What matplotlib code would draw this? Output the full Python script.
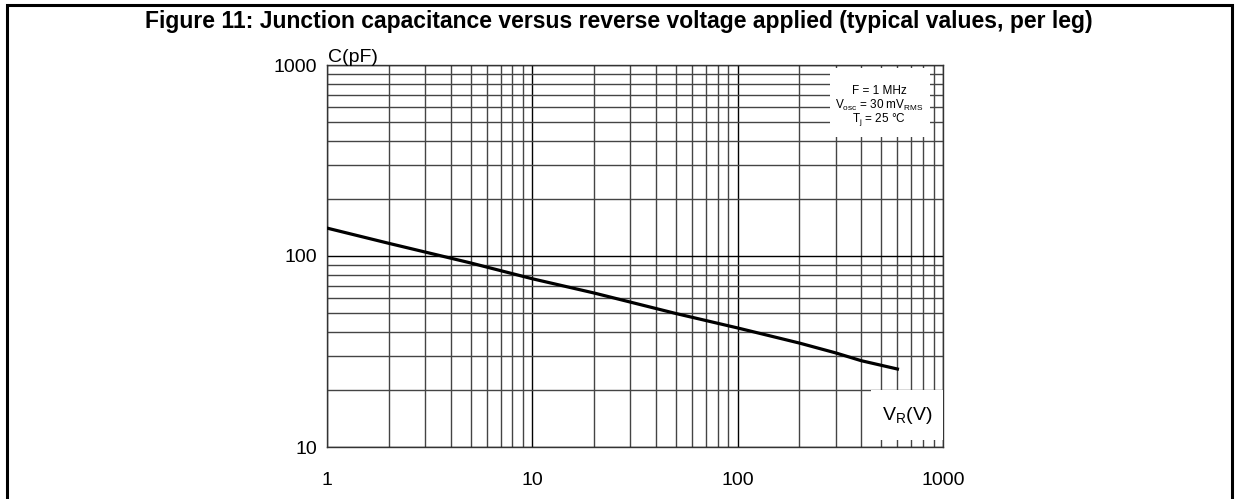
import numpy as np
import matplotlib.pyplot as plt
from matplotlib.patches import Rectangle
from matplotlib.ticker import LogLocator, FixedLocator, NullFormatter

plt.rcParams['font.family'] = ['Liberation Sans', 'DejaVu Sans']

# data
vr = [1, 2, 5, 10, 20, 50, 100, 200, 300, 400, 600]
cap = [140, 116.5, 92, 76, 64, 50, 42, 35, 31.1, 28.3, 25.6]

xticks = [1, 10, 100, 1000]
xtick_labels = ['1', '10', '100', '1000']
yticks = [10, 100, 1000]
ytick_labels = ['10', '100', '1000']

title = 'Figure 11: Junction capacitance versus reverse voltage applied (typical values, per leg)'

W, H = 1240, 499
fig = plt.figure(figsize=(W / 100, H / 100), dpi=100)
ax = fig.add_axes([327 / W, 1 - 447 / H, (943 - 327) / W, (447 - 65) / H])

ax.set_xscale('log')
ax.set_yscale('log')
ax.set_xlim(1, 1000)
ax.set_ylim(10, 1000)

# grid
ax.xaxis.set_major_locator(FixedLocator(xticks))
ax.yaxis.set_major_locator(FixedLocator(yticks))
ax.xaxis.set_minor_locator(LogLocator(base=10, subs=np.arange(2, 10)))
ax.yaxis.set_minor_locator(LogLocator(base=10, subs=np.arange(2, 10)))
ax.xaxis.set_minor_formatter(NullFormatter())
ax.yaxis.set_minor_formatter(NullFormatter())
ax.set_xticklabels(xtick_labels)
ax.set_yticklabels(ytick_labels)
ax.grid(which='major', color='black', lw=1.0, zorder=0)
ax.grid(which='minor', color='#444444', lw=1.0, zorder=0)
ax.set_axisbelow(True)
ax.tick_params(which='both', length=0)
ax.tick_params(axis='x', pad=18, labelsize=14)
ax.tick_params(axis='y', pad=7, labelsize=14)
for s in ax.spines.values():
    s.set_color('#333333')
    s.set_linewidth(1.0)

ax.plot(vr, cap, color='black', lw=2.3, zorder=3)

# conditions box
ax.add_patch(Rectangle((830 / W, 1 - 137 / H), (930 - 830) / W, (137 - 68) / H,
                       transform=fig.transFigure, facecolor='white', edgecolor='none', zorder=4))
fig.text(879 / W, 1 - 91 / H, 'F = 1 MHz', ha='center', va='center', fontsize=8.5, zorder=5)
fig.text(879 / W, 1 - 105 / H, r'V$_{\mathregular{osc}}$ = 30 mV$_{\mathregular{RMS}}$',
         ha='center', va='center', fontsize=8.5, zorder=5)
fig.text(879 / W, 1 - 120 / H, r'T$_{\mathregular{j}}$ = 25 °C', ha='center', va='center',
         fontsize=8.5, zorder=5)

# axis name boxes
ax.add_patch(Rectangle((871 / W, 1 - 440 / H), (943 - 871) / W, (440 - 390) / H,
                       transform=fig.transFigure, facecolor='white', edgecolor='none', zorder=4))
fig.text(907 / W, 1 - 415 / H, r'V$_{\mathregular{R}}$(V)', ha='center', va='center', fontsize=14, zorder=5)
fig.text(328 / W, 1 - 62 / H, 'C(pF)', ha='left', va='baseline', fontsize=14)

fig.text(619 / W, 1 - 28 / H, title, ha='center', va='baseline', fontsize=16.5, fontweight='bold')

# outer frame
fig.patches.append(Rectangle((7 / W, -0.1), (1232 - 7) / W, 1 - 5 / H + 0.1,
                             transform=fig.transFigure, fill=False, edgecolor='black', lw=2.2))

fig.savefig('out.png', dpi=100)
